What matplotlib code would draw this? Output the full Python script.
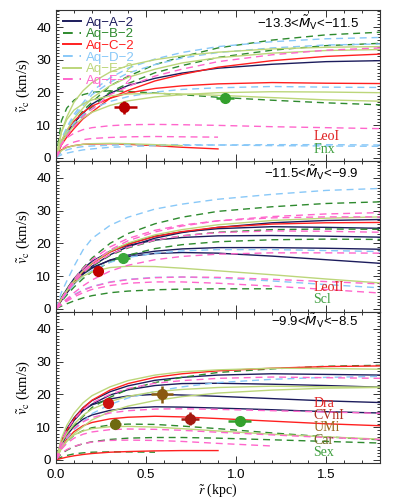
import matplotlib
matplotlib.use('Agg')
import matplotlib.pyplot as plt
from matplotlib.lines import Line2D
from matplotlib.ticker import MultipleLocator

# radius grid (kpc) on which the model curves are sampled
R = [0, 0.03, 0.06, 0.1, 0.15, 0.2, 0.3, 0.4, 0.55, 0.7, 0.9, 1.2, 1.5, 1.8]

# ---------------- panel 1: -13.3 < M_V < -11.5 ----------------
p1_A = [[0, 4.6, 7.5, 10.7, 13.6, 16.4, 19.7, 22.1, 24.3, 25.9, 27.4, 28.6, 29.4, 29.7]]
p1_B = [[0, 4.7, 7.6, 10.8, 14.4, 17.0, 22.0, 24.9, 28.5, 30.9, 33.6, 36.0, 37.6, 38.4],
        [0, 4.3, 6.9, 9.9, 13.1, 15.5, 20.1, 22.7, 26.0, 28.2, 30.7, 32.9, 34.3, 35.0],
        [0, 11.3, 15.2, 17.6, 19.3, 20.0, 20.5, 20.3, 19.8, 19.3, 18.5, 17.6, 16.8, 16.2]]
p1_C = [[0, 3.9, 6.3, 8.9, 11.9, 14.0, 18.2, 20.6, 23.5, 25.5, 27.7, 29.7, 31.0, 31.7],
        [0, 5.1, 8.3, 11.2, 13.9, 15.8, 18.2, 19.8, 21.2, 22.0, 22.6, 23.0, 22.8, 22.7],
        [0, 2.4, 3.2, 3.7, 4.1, 4.2, 4.3, 4.1, 3.7, 3.2, 2.7]]
p1_D = [[0, 5.7, 9.3, 13.3, 16.8, 20.4, 24.4, 27.4, 30.2, 32.2, 34.0, 35.5, 36.4, 36.8],
        [0, 5.4, 8.8, 12.6, 15.9, 19.3, 23.1, 25.9, 28.5, 30.5, 32.2, 33.6, 34.5, 34.8],
        [0, 4.8, 7.8, 10.6, 13.2, 15.0, 17.2, 18.7, 20.1, 20.9, 21.4, 21.8, 21.6, 21.5],
        [0, 0.9, 1.4, 1.9, 2.4, 2.7, 3.2, 3.4, 3.7, 3.8, 3.9, 4.0, 4.0, 3.9],
        [0, 1.6, 2.4, 3.0, 3.4, 3.6, 3.8, 4.0, 4.0, 4.0, 3.9, 3.7, 3.6, 3.5]]
p1_E = [[0, 8.0, 12.5, 17.0, 20.5, 23.0, 26.2, 28.2, 30.0, 31.2, 32.3, 33.3, 33.8, 34.0],
        [0, 5.2, 8.4, 12.0, 15.2, 18.3, 22.0, 24.6, 27.1, 29.0, 30.6, 32.0, 32.8, 33.1],
        [0, 4.5, 7.3, 9.8, 12.2, 13.9, 16.0, 17.4, 18.6, 19.3, 19.9, 20.2, 20.1, 19.9],
        [0, 7.8, 11.7, 14.6, 16.5, 17.7, 18.9, 19.5, 19.7, 19.5, 19.1, 18.4, 17.7, 17.3],
        [0, 2.2, 3.1, 3.7, 4.1, 4.3, 4.4, 4.3, 4.0, 3.7]]
p1_F = [[0, 4.1, 6.7, 9.5, 12.6, 14.9, 19.3, 21.8, 25.0, 27.1, 29.4, 31.5, 32.9, 33.6],
        [0, 4.1, 6.1, 7.5, 8.6, 9.2, 9.8, 10.1, 10.2, 10.1, 9.9, 9.5, 9.2, 8.9],
        [0, 2.6, 3.9, 4.8, 5.5, 5.9, 6.2, 6.4, 6.5, 6.4, 6.3]]

# ---------------- panel 2: -11.5 < M_V < -9.9 ----------------
p2_A = [[0, 2.5, 4.8, 7.6, 10.6, 13.0, 16.5, 19.0, 21.6, 23.3, 24.9, 26.3, 27.0, 27.3],
        [0, 3.0, 5.6, 8.7, 11.8, 14.2, 17.6, 19.9, 22.2, 23.5, 24.5, 25.1, 24.9, 24.6],
        [0, 3.2, 6.0, 9.2, 12.2, 14.5, 17.5, 19.4, 21.0, 21.8, 22.3, 22.4, 22.2, 21.9],
        [0, 2.8, 5.2, 8.0, 10.6, 12.4, 14.9, 16.4, 17.6, 18.3, 18.7, 18.7, 18.5, 18.2],
        [0, 3.0, 5.6, 8.4, 10.9, 12.6, 14.8, 16.0, 16.9, 17.2, 17.0, 16.1, 15.0, 13.9]]
p2_B = [[0, 3.5, 6.0, 9.0, 12.5, 15.5, 20.0, 23.0, 26.0, 28.0, 29.8, 31.2, 32.2, 32.7],
        [0, 2.6, 4.9, 7.7, 10.7, 13.0, 16.3, 18.6, 20.9, 22.3, 23.4, 24.2, 24.4, 24.3],
        [0, 2.2, 4.2, 6.6, 9.2, 11.3, 14.3, 16.4, 18.4, 19.6, 20.5, 21.1, 21.3, 21.2],
        [0, 0.8, 1.5, 2.4, 3.3, 4.0, 4.9, 5.4, 5.8, 6.0, 6.1, 6.1]]
p2_C = [[0, 2.8, 5.3, 8.3, 11.4, 13.8, 17.3, 19.7, 22.1, 23.6, 24.9, 25.9, 26.3, 26.4]]
p2_D = [[0, 5.0, 8.5, 13.0, 18.0, 21.5, 25.5, 28.0, 30.5, 32.0, 33.5, 35.0, 36.2, 36.8],
        [0, 2.6, 4.8, 7.4, 9.9, 11.7, 14.2, 15.7, 17.0, 17.7, 18.1, 18.1, 17.8, 17.5],
        [0, 1.5, 2.8, 4.3, 5.8, 6.8, 8.2, 9.0, 9.6, 9.7, 9.4, 8.5, 7.4, 6.4]]
p2_E = [[0, 3.0, 5.6, 8.6, 11.6, 14.0, 17.6, 20.1, 22.6, 24.2, 25.7, 27.0, 27.7, 28.1],
        [0, 3.0, 5.4, 7.9, 10.0, 11.3, 12.6, 13.0, 12.9, 12.4, 11.6, 10.4, 9.1, 7.9]]
p2_F = [[0, 2.8, 5.3, 8.3, 11.4, 14.0, 18.0, 20.8, 23.5, 25.3, 26.9, 28.2, 29.0, 29.4],
        [0, 3.0, 5.7, 9.0, 12.3, 15.0, 18.9, 21.5, 24.0, 25.6, 26.9, 27.8, 28.1, 28.1],
        [0, 2.7, 5.1, 8.0, 11.0, 13.3, 16.6, 18.8, 21.0, 22.3, 23.3, 23.8, 23.7, 23.4],
        [0, 1.6, 3.0, 4.9, 7.0, 8.8, 11.5, 13.3, 15.0, 16.0, 16.7, 17.1, 17.1, 17.0],
        [0, 1.2, 2.3, 3.6, 4.9, 5.9, 7.1, 7.8, 8.2, 8.2, 7.8, 6.9, 5.9, 4.8],
        [0, 1.4, 2.6, 4.1, 5.6, 6.7, 8.1, 8.9, 9.5, 9.7, 9.6, 9.0, 8.3, 7.6]]

# ---------------- panel 3: -9.9 < M_V < -8.5 ----------------
p3_A = [[0, 5.8, 9.5, 12.8, 15.9, 18.1, 20.8, 22.6, 24.3, 25.2, 25.9, 26.3, 26.1, 25.9],
        [0, 5.0, 8.5, 12.0, 15.0, 17.0, 19.8, 21.4, 22.7, 23.3, 23.4, 23.1, 22.7, 22.2],
        [0, 5.5, 9.0, 12.5, 15.2, 16.8, 18.6, 19.5, 20.0, 19.8, 19.4, 18.7, 18.0, 17.5],
        [0, 4.5, 7.5, 10.2, 12.4, 13.7, 15.1, 15.8, 16.2, 16.1, 15.8, 15.3, 14.7, 14.3]]
p3_B = [[0, 4.5, 7.3, 10.4, 13.2, 16.0, 19.1, 21.5, 23.6, 25.2, 26.7, 27.8, 28.6, 28.9],
        [0, 3.5, 5.5, 7.5, 8.9, 9.8, 10.6, 10.9, 10.8, 10.3, 9.5, 8.2, 7.0, 6.1],
        [0, 1.8, 2.9, 4.0, 4.9, 5.5, 6.2, 6.6, 6.8, 6.8, 6.6, 6.1, 5.6, 5.1],
        [0, 0.8, 1.3, 1.8, 2.1, 2.3, 2.4, 2.4, 2.3]]
p3_C = [[0, 5.5, 9.0, 12.5, 15.8, 18.2, 21.3, 23.3, 25.2, 26.3, 27.2, 28.0, 28.5, 28.7],
        [0, 3.8, 6.3, 8.6, 10.4, 11.4, 12.5, 13.0, 13.3, 13.1, 12.6, 11.8, 11.0, 10.4],
        [0, 0.4, 0.8, 1.2, 1.6, 1.9, 2.3, 2.5, 2.7, 2.8, 2.8]]
p3_D = [[0, 4.0, 6.5, 9.2, 11.6, 14.1, 16.9, 18.9, 20.9, 22.3, 23.6, 24.6, 25.2, 25.5]]
p3_E = [[0, 6.5, 10.5, 14.2, 17.4, 19.6, 22.3, 24.2, 25.9, 26.9, 27.5, 28.0, 27.9, 27.7],
        [0, 5.0, 8.1, 10.9, 13.6, 15.5, 17.8, 19.4, 20.8, 21.5, 22.1, 22.5, 22.3, 22.2],
        [0, 3.4, 5.6, 8.0, 10.1, 12.2, 14.7, 16.4, 18.1, 19.3, 20.4, 21.3, 21.9, 22.1],
        [0, 3.8, 5.8, 7.6, 8.8, 9.5, 10.1, 10.2, 10.0, 9.5, 8.8, 7.8, 7.0, 6.3]]
p3_F = [[0, 5.6, 9.1, 12.3, 15.3, 17.4, 20.0, 21.8, 23.4, 24.2, 24.9, 25.3, 25.1, 24.9],
        [0, 4.2, 7.0, 9.6, 11.6, 12.9, 14.3, 15.0, 15.5, 15.6, 15.4, 15.0, 14.6, 14.2],
        [0, 3.2, 5.0, 6.6, 7.8, 8.5, 9.2, 9.4, 9.3, 9.0, 8.4, 7.6, 6.8, 6.2],
        [0, 2.0, 3.1, 4.1, 4.9, 5.4, 5.9, 6.0, 5.9, 5.6, 5.0, 4.2]]

# ---------------- observed dwarfs ----------------
p1_gal = ['LeoI', 'Fnx']
p1_r = [0.38, 0.94]
p1_rlo = [0.06, 0.05]
p1_rhi = [0.07, 0.05]
p1_v = [15.5, 18.3]
p1_verr = [2.0, 0.7]

p2_gal = ['LeoII', 'Scl']
p2_r = [0.233, 0.37]
p2_rlo = [0.02, 0.04]
p2_rhi = [0.02, 0.04]
p2_v = [11.4, 15.6]
p2_verr = [0.8, 0.6]

p3_gal = ['Dra', 'CVnI', 'UMi', 'Car', 'Sex']
p3_r = [0.29, 0.745, 0.59, 0.33, 1.02]
p3_rlo = [0.02, 0.05, 0.06, 0.03, 0.065]
p3_rhi = [0.02, 0.05, 0.06, 0.03, 0.065]
p3_v = [17.4, 12.5, 20.0, 10.8, 11.8]
p3_verr = [1.2, 2.0, 2.5, 1.0, 0.7]

titles = ['−13.3<$\\tilde{M}_{\\rm V}$<−11.5',
          '−11.5<$\\tilde{M}_{\\rm V}$<−9.9',
          '−9.9<$\\tilde{M}_{\\rm V}$<−8.5']

series_keys = ['A', 'B', 'C', 'D', 'E', 'F']
series_labels = ['Aq−A−2', 'Aq−B−2', 'Aq−C−2', 'Aq−D−2', 'Aq−E−2', 'Aq−F−2']
series_colors = {'A': '#1c1c5c', 'B': '#2e8a2e', 'C': '#ff2020',
                 'D': '#88c8f8', 'E': '#bcd67a', 'F': '#ff66cc'}
series_dashed = {'A': False, 'B': True, 'C': False, 'D': True, 'E': False, 'F': True}
gal_colors = {'LeoI': '#b80000', 'Fnx': '#33a02c', 'LeoII': '#c00000', 'Scl': '#3aa83a',
              'Dra': '#cc1111', 'CVnI': '#a31a10', 'UMi': '#8a5a10', 'Car': '#6e6a10',
              'Sex': '#33a02c'}
label_colors = {'LeoI': '#e02020', 'Fnx': '#40a040', 'LeoII': '#e02020', 'Scl': '#40a040',
                'Dra': '#e02020', 'CVnI': '#b03020', 'UMi': '#9a6a20', 'Car': '#706a20',
                'Sex': '#40a040'}

panels = [
    dict(curves={'A': p1_A, 'B': p1_B, 'C': p1_C, 'D': p1_D, 'E': p1_E, 'F': p1_F},
         gal=p1_gal, r=p1_r, rlo=p1_rlo, rhi=p1_rhi, v=p1_v, verr=p1_verr,
         label_y=[6.4, 2.4]),
    dict(curves={'A': p2_A, 'B': p2_B, 'C': p2_C, 'D': p2_D, 'E': p2_E, 'F': p2_F},
         gal=p2_gal, r=p2_r, rlo=p2_rlo, rhi=p2_rhi, v=p2_v, verr=p2_verr,
         label_y=[6.4, 2.7]),
    dict(curves={'A': p3_A, 'B': p3_B, 'C': p3_C, 'D': p3_D, 'E': p3_E, 'F': p3_F},
         gal=p3_gal, r=p3_r, rlo=p3_rlo, rhi=p3_rhi, v=p3_v, verr=p3_verr,
         label_y=[17.1, 13.4, 9.8, 5.8, 2.1]),
]

DASH = (5, 3.5)
SANS = 'Liberation Sans'
SERIF = 'Liberation Serif'

fig = plt.figure(figsize=(3.99, 4.98), dpi=100)
bottoms = [0.6767, 0.3735, 0.0703]
for i, pan in enumerate(panels):
    ax = fig.add_axes([0.1404, bottoms[i], 0.812, 0.3032])
    for key in series_keys:
        for vals in pan['curves'][key]:
            kw = dict(color=series_colors[key], lw=1.0)
            if series_dashed[key]:
                kw.update(ls='--', dashes=DASH)
            ax.plot(R[:len(vals)], vals, **kw)
    for j, g in enumerate(pan['gal']):
        ax.errorbar([pan['r'][j]], [pan['v'][j]],
                    xerr=[[pan['rlo'][j]], [pan['rhi'][j]]],
                    yerr=[[pan['verr'][j]], [pan['verr'][j]]],
                    fmt='o', color=gal_colors[g], ms=7, elinewidth=1.8,
                    capsize=0, zorder=6)
        ax.text(1.43, pan['label_y'][j], g, color=label_colors[g],
                fontfamily=SERIF, fontsize=10, ha='left', va='center')
    ax.text(0.935, [0.915, 0.925, 0.945][i], titles[i], transform=ax.transAxes,
            ha='right', va='center', fontsize=9.5, fontfamily=SANS,
            math_fontfamily='dejavusans')
    ax.set_xlim(0, 1.8)
    ax.set_ylim(-1, 45.2)
    ax.xaxis.set_major_locator(MultipleLocator(0.5))
    ax.xaxis.set_minor_locator(MultipleLocator(0.1))
    ax.yaxis.set_major_locator(MultipleLocator(10))
    ax.yaxis.set_minor_locator(MultipleLocator(1))
    ax.tick_params(which='both', direction='in', top=True, right=True,
                   labelsize=9.5, width=0.7, colors='#333333', labelcolor='black')
    ax.tick_params(which='major', length=5)
    ax.tick_params(which='minor', length=2.5)
    for s in ax.spines.values():
        s.set_linewidth(0.8)
        s.set_color('#333333')
    for lab in ax.get_xticklabels() + ax.get_yticklabels():
        lab.set_fontfamily(SANS)
    ax.set_ylabel('$\\tilde{v}_{\\rm c}$ (km/s)', fontfamily=SERIF, fontsize=10.5,
                  math_fontfamily='stix', labelpad=3)
    if i < 2:
        ax.tick_params(axis='x', labelbottom=False)
    else:
        ax.tick_params(axis='x', pad=4.5)
        ax.set_xlabel('$\\tilde{r}$ (kpc)', fontfamily=SERIF, fontsize=10,
                      math_fontfamily='stix', labelpad=0)
    if i == 0:
        handles = []
        for key in series_keys:
            kw = dict(color=series_colors[key], lw=1.4)
            if series_dashed[key]:
                kw.update(ls='--', dashes=DASH)
            handles.append(Line2D([], [], **kw))
        leg = ax.legend(handles, series_labels, loc='upper left', frameon=False,
                        prop={'family': SANS, 'size': 9.5}, handlelength=1.4,
                        handletextpad=0.4, labelspacing=-0.05, borderpad=0.2,
                        borderaxespad=0.3, labelcolor='linecolor')

fig.savefig('out.png', dpi=100)
